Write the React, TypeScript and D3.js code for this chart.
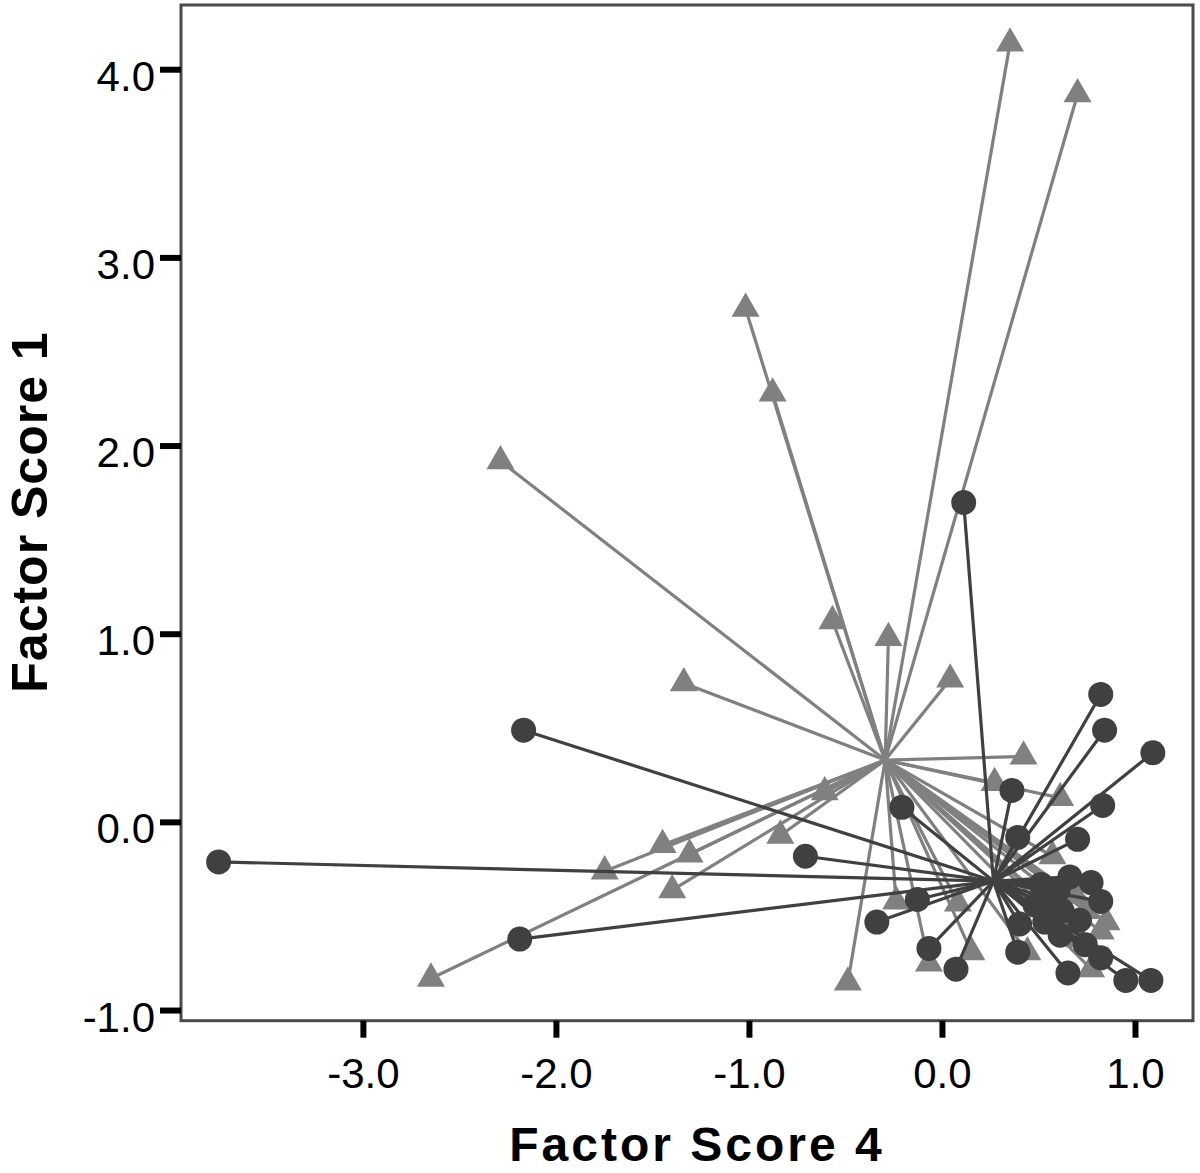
import React from "react";
import * as d3 from "d3";

const xTicks = [-3, -2, -1, 0, 1];
const yTicks = [-1, 0, 1, 2, 3, 4];

// Group 1 (triangles, grey): [factor score 4, factor score 1]
const triX = [0.35, 0.70, -1.02, -0.88, -2.29, -0.57, -0.28, 0.04, -1.34, 0.42, 0.27, 0.61, 0.85, 0.82, -0.24, 0.08, -0.07, 0.15, 0.44, 0.77, 0.57, -0.61, -0.84, -1.45, -1.31, -1.75, -1.40, -0.49, -2.65, 0.69, 0.74, 0.64, 0.53, 0.71];
const triY = [4.14, 3.87, 2.73, 2.28, 1.92, 1.07, 0.98, 0.76, 0.74, 0.35, 0.21, 0.13, -0.53, -0.58, -0.42, -0.43, -0.75, -0.69, -0.69, -0.78, -0.18, 0.16, -0.07, -0.12, -0.17, -0.26, -0.36, -0.85, -0.83, -0.39, -0.47, -0.52, -0.41, -0.62];
const triCentroid = [-0.297, 0.331];

// Group 2 (circles, dark)
const cirX = [0.11, -2.17, -3.75, -2.19, -0.71, -0.34, 0.82, 0.84, 1.09, 0.36, 0.83, 0.70, 0.39, -0.21, 0.66, 0.77, 0.82, 0.40, 0.61, 0.82, 0.65, 0.95, 1.08, 0.39, 0.07, -0.07, -0.13, 0.51, 0.56, 0.62, 0.71, 0.53, 0.74, 0.60, 0.48];
const cirY = [1.70, 0.49, -0.21, -0.62, -0.18, -0.53, 0.68, 0.49, 0.37, 0.17, 0.09, -0.09, -0.08, 0.08, -0.29, -0.32, -0.42, -0.54, -0.60, -0.72, -0.80, -0.84, -0.84, -0.69, -0.78, -0.67, -0.41, -0.33, -0.41, -0.47, -0.52, -0.53, -0.65, -0.36, -0.44];
const cirCentroid = [0.264, -0.312];

const GREY = "#808080";
const DARK = "#404040";
const FONT = "'Liberation Sans', Arial, Helvetica, sans-serif";

const fmt = (t: number) => d3.format(".1f")(t).replace("\u2212", "-");

export default function App() {
  const left = 181, right = 1193, top = 5, bottom = 1020.7;
  const x = d3.scaleLinear().domain([-3.945, 1.298]).range([left, right]);
  const y = d3.scaleLinear().domain([-1.054, 4.344]).range([bottom, top]);
  const tri = d3.symbol().type(d3.symbolTriangle).size(340)() as string;

  const tcx = x(triCentroid[0]), tcy = y(triCentroid[1]);
  const ccx = x(cirCentroid[0]), ccy = y(cirCentroid[1]);

  return (
    <svg width={1200} height={1173} style={{ position: "absolute", left: 0, top: 0, background: "#fff" }} fontFamily={FONT}>
      <rect x={0} y={0} width={1200} height={1173} fill="#fff" />
      {/* frame */}
      <rect x={left} y={top} width={right - left} height={bottom - top} fill="none" stroke="#4a4a4a" strokeWidth={3} />

      {/* grey group */}
      <g>
        {triX.map((v, i) => (
          <line key={"tl" + i} x1={tcx} y1={tcy} x2={x(v)} y2={y(triY[i])} stroke={GREY} strokeWidth={3.2} />
        ))}
        {triX.map((v, i) => (
          <path key={"tm" + i} d={tri} transform={`translate(${x(v)},${y(triY[i])})`} fill={GREY} />
        ))}
      </g>
      {/* dark group */}
      <g>
        {cirX.map((v, i) => (
          <line key={"cl" + i} x1={ccx} y1={ccy} x2={x(v)} y2={y(cirY[i])} stroke={DARK} strokeWidth={3.2} />
        ))}
        {cirX.map((v, i) => (
          <circle key={"cm" + i} cx={x(v)} cy={y(cirY[i])} r={12.5} fill={DARK} />
        ))}
      </g>

      {/* y axis */}
      {yTicks.map((t) => (
        <g key={"yt" + t}>
          <line x1={left - 21} x2={left} y1={y(t)} y2={y(t)} stroke="#000" strokeWidth={6} />
          <text x={155} y={y(t) + 21} textAnchor="end" fontSize={42} fill="#000">
            {fmt(t)}
          </text>
        </g>
      ))}
      {/* x axis */}
      {xTicks.map((t) => (
        <g key={"xt" + t}>
          <line x1={x(t)} x2={x(t)} y1={bottom} y2={bottom + 17} stroke="#000" strokeWidth={6} />
          <text x={x(t)} y={1088} textAnchor="middle" fontSize={42} fill="#000">
            {fmt(t)}
          </text>
        </g>
      ))}

      <text x={697} y={1161} textAnchor="middle" fontSize={48} fontWeight="bold" letterSpacing={3} fill="#000">
        Factor Score 4
      </text>
      <text transform={`translate(47,512) rotate(-90)`} textAnchor="middle" fontSize={50} fontWeight="bold" letterSpacing={1} fill="#000">
        Factor Score 1
      </text>
    </svg>
  );
}
